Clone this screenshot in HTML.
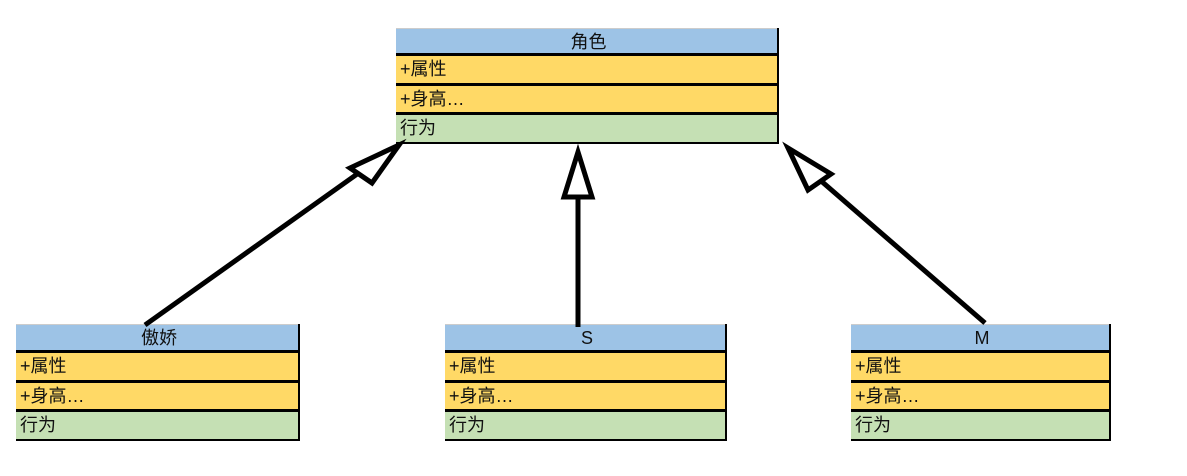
<!DOCTYPE html><html><head><meta charset="utf-8"><style>
body{margin:0;width:1187px;height:476px;background:#fff;position:relative;overflow:hidden;font-family:"Liberation Sans","Noto Sans CJK SC",sans-serif;}
.b{position:absolute;border-right:2px solid #000;}
.r{box-sizing:border-box;border-bottom:3px solid #000;font-size:18px;line-height:26px;padding-left:4px;color:#111;}
.h{background:#9dc3e6;text-align:center;border-top:1px solid #ccc;}
.y{background:#ffd966;}
.g{background:#c5e0b4;border-bottom:2px solid #000;}
</style></head><body>
<div class="b" style="left:396px;top:28px;width:381px">
<div class="r h" style="height:28px">角色</div><div class="r y" style="height:30px">+属性</div><div class="r y" style="height:29px">+身高…</div><div class="r g" style="height:29px">行为</div></div>
<div class="b" style="left:16px;top:324px;width:282px">
<div class="r h" style="height:29px">傲娇</div><div class="r y" style="height:30px">+属性</div><div class="r y" style="height:29px">+身高…</div><div class="r g" style="height:29px">行为</div></div>
<div class="b" style="left:445px;top:324px;width:280px">
<div class="r h" style="height:29px">S</div><div class="r y" style="height:30px">+属性</div><div class="r y" style="height:29px">+身高…</div><div class="r g" style="height:29px">行为</div></div>
<div class="b" style="left:851px;top:324px;width:258px">
<div class="r h" style="height:29px">M</div><div class="r y" style="height:30px">+属性</div><div class="r y" style="height:29px">+身高…</div><div class="r g" style="height:29px">行为</div></div>
<svg width="1187" height="476" style="position:absolute;left:0;top:0" fill="none" stroke="#000" stroke-width="5">
<line x1="145" y1="325" x2="360" y2="172"/>
<polygon points="399,145 372,183 350,168" fill="#fff"/>
<line x1="578" y1="327" x2="578" y2="197"/>
<polygon points="578,152 592,197 564,197" fill="#fff"/>
<line x1="985" y1="323" x2="820" y2="180"/>
<polygon points="788,148 831,174 808,190" fill="#fff"/>
</svg>
</body></html>
